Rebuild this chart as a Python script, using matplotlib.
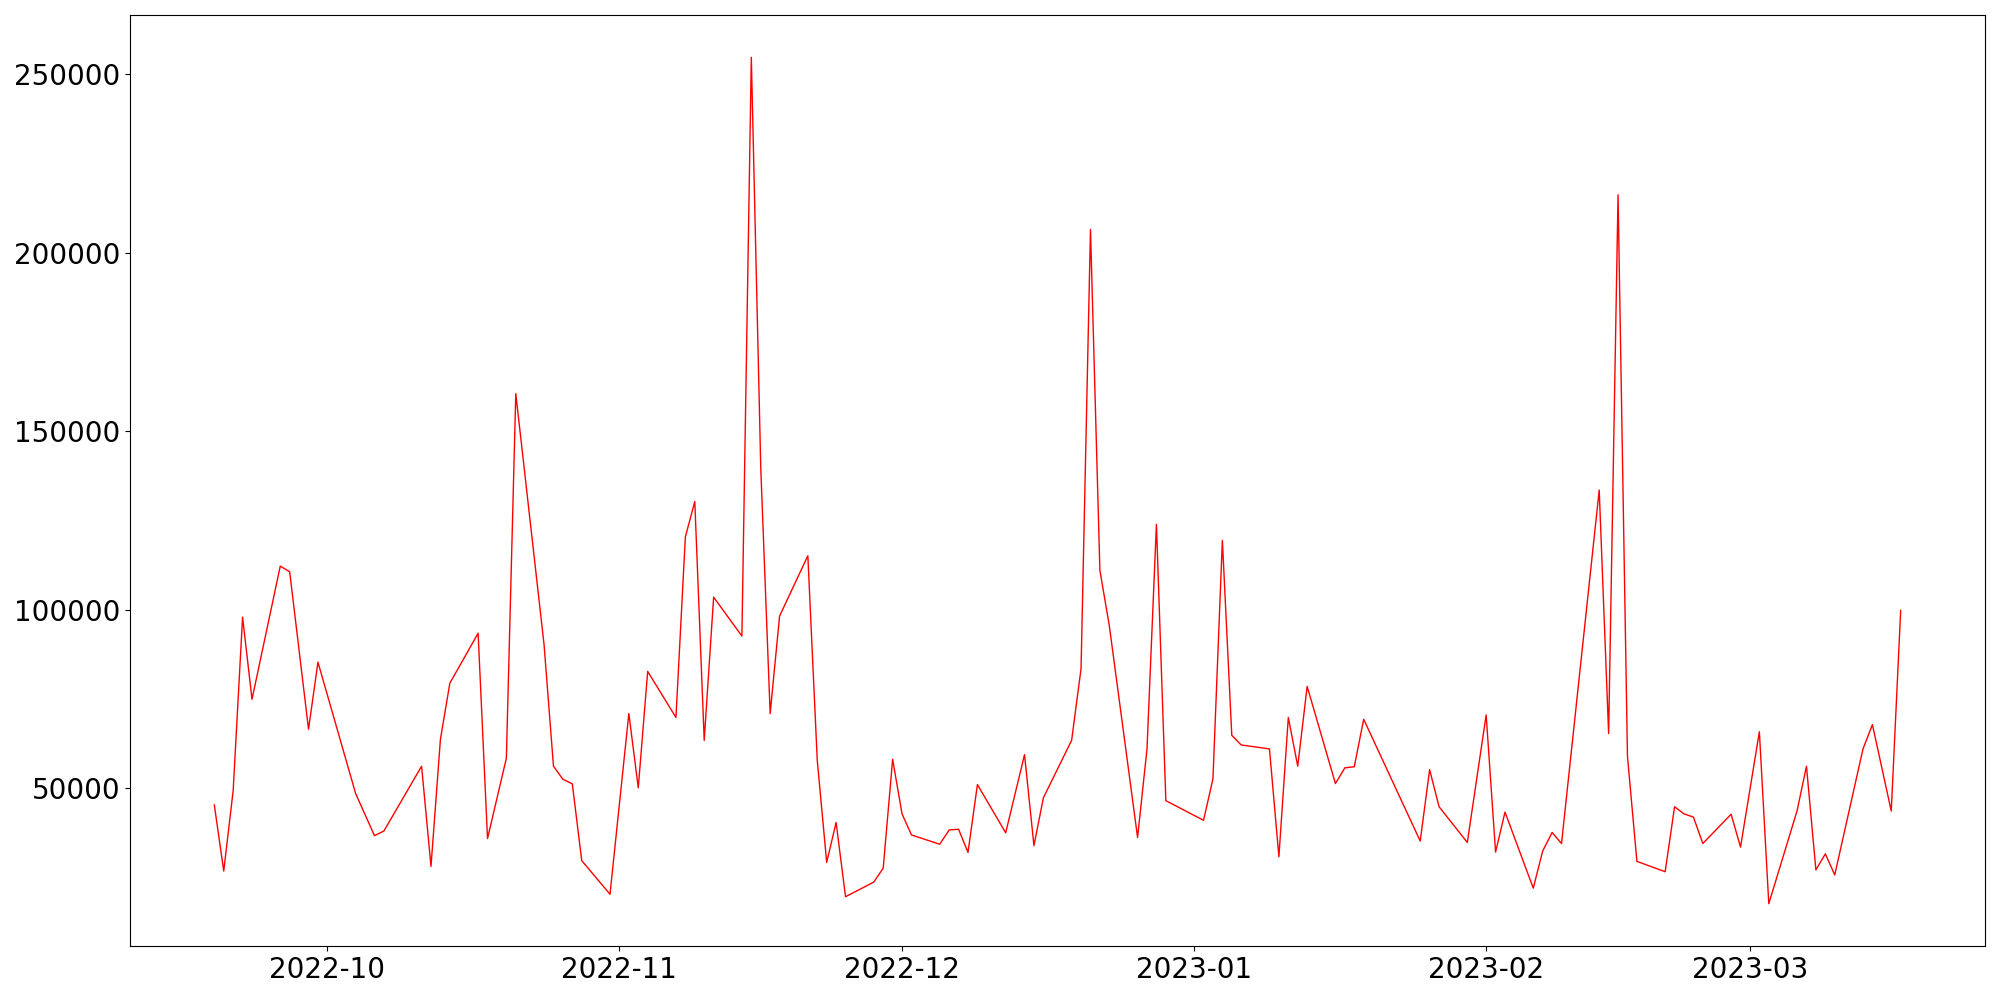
import matplotlib
matplotlib.use("Agg")
import matplotlib.pyplot as plt
import pandas as pd

dates = [
    "2022-09-19", "2022-09-20", "2022-09-21", "2022-09-22", "2022-09-23",
    "2022-09-26", "2022-09-27", "2022-09-29", "2022-09-30",
    "2022-10-04", "2022-10-06", "2022-10-07",
    "2022-10-11", "2022-10-12", "2022-10-13", "2022-10-14",
    "2022-10-17", "2022-10-18", "2022-10-20", "2022-10-21",
    "2022-10-24", "2022-10-25", "2022-10-26", "2022-10-27", "2022-10-28",
    "2022-10-31", "2022-11-02", "2022-11-03", "2022-11-04",
    "2022-11-07", "2022-11-08", "2022-11-09", "2022-11-10", "2022-11-11",
    "2022-11-14", "2022-11-15", "2022-11-16", "2022-11-17", "2022-11-18",
    "2022-11-21", "2022-11-22", "2022-11-23", "2022-11-24", "2022-11-25",
    "2022-11-28", "2022-11-29", "2022-11-30", "2022-12-01", "2022-12-02",
    "2022-12-05", "2022-12-06", "2022-12-07", "2022-12-08", "2022-12-09",
    "2022-12-12", "2022-12-14", "2022-12-15", "2022-12-16",
    "2022-12-19", "2022-12-20", "2022-12-21", "2022-12-22", "2022-12-23",
    "2022-12-26", "2022-12-27", "2022-12-28", "2022-12-29",
    "2023-01-02", "2023-01-03", "2023-01-04", "2023-01-05", "2023-01-06",
    "2023-01-09", "2023-01-10", "2023-01-11", "2023-01-12", "2023-01-13",
    "2023-01-16", "2023-01-17", "2023-01-18", "2023-01-19",
    "2023-01-25", "2023-01-26", "2023-01-27",
    "2023-01-30", "2023-02-01", "2023-02-02", "2023-02-03",
    "2023-02-06", "2023-02-07", "2023-02-08", "2023-02-09",
    "2023-02-13", "2023-02-14", "2023-02-15", "2023-02-16", "2023-02-17",
    "2023-02-20", "2023-02-21", "2023-02-22", "2023-02-23", "2023-02-24",
    "2023-02-27", "2023-02-28", "2023-03-02", "2023-03-03",
    "2023-03-06", "2023-03-07", "2023-03-08", "2023-03-09", "2023-03-10",
    "2023-03-13", "2023-03-14", "2023-03-16", "2023-03-17",
]

values = [
    45300, 26800, 49300, 97900, 74900,
    112200, 110600, 66500, 85300,
    48500, 36700, 38000,
    56150, 28100, 63700, 79400,
    93400, 35900, 58400, 160500,
    90200, 56150, 52500, 51200, 29700,
    20300, 70900, 50100, 82700,
    69800, 120400, 130300, 63400, 103500,
    92600, 254700, 139900, 70900, 98200,
    115100, 57800, 29200, 40400, 19600,
    23700, 27600, 58100, 42800, 36900,
    34300, 38300, 38500, 32000, 51000,
    37500, 59400, 33900, 47300,
    63400, 83500, 206500, 111000, 95500,
    36200, 61000, 123900, 46500,
    41000, 52600, 119400, 64800, 62100,
    61000, 30800, 69800, 56150, 78500,
    51300, 55700, 56000, 69300,
    35200, 55200, 44800,
    34800, 70500, 32100, 43300,
    22000, 32400, 37600, 34500,
    133500, 65300, 216200, 58900, 29500,
    26600, 44800, 42800, 41900, 34500,
    42700, 33500, 65800, 17650,
    43650, 56150, 27100, 31600, 25700,
    61000, 67800, 43600, 99800,
]

x = pd.to_datetime(dates)

fig, ax = plt.subplots(figsize=(20, 10), dpi=100)
fig.subplots_adjust(left=0.065, right=0.9925, top=0.985, bottom=0.054)
ax.plot(x, values, color="red", linewidth=1.0)
ax.tick_params(axis="both", labelsize=20)
fig.savefig("out.png", dpi=100)
